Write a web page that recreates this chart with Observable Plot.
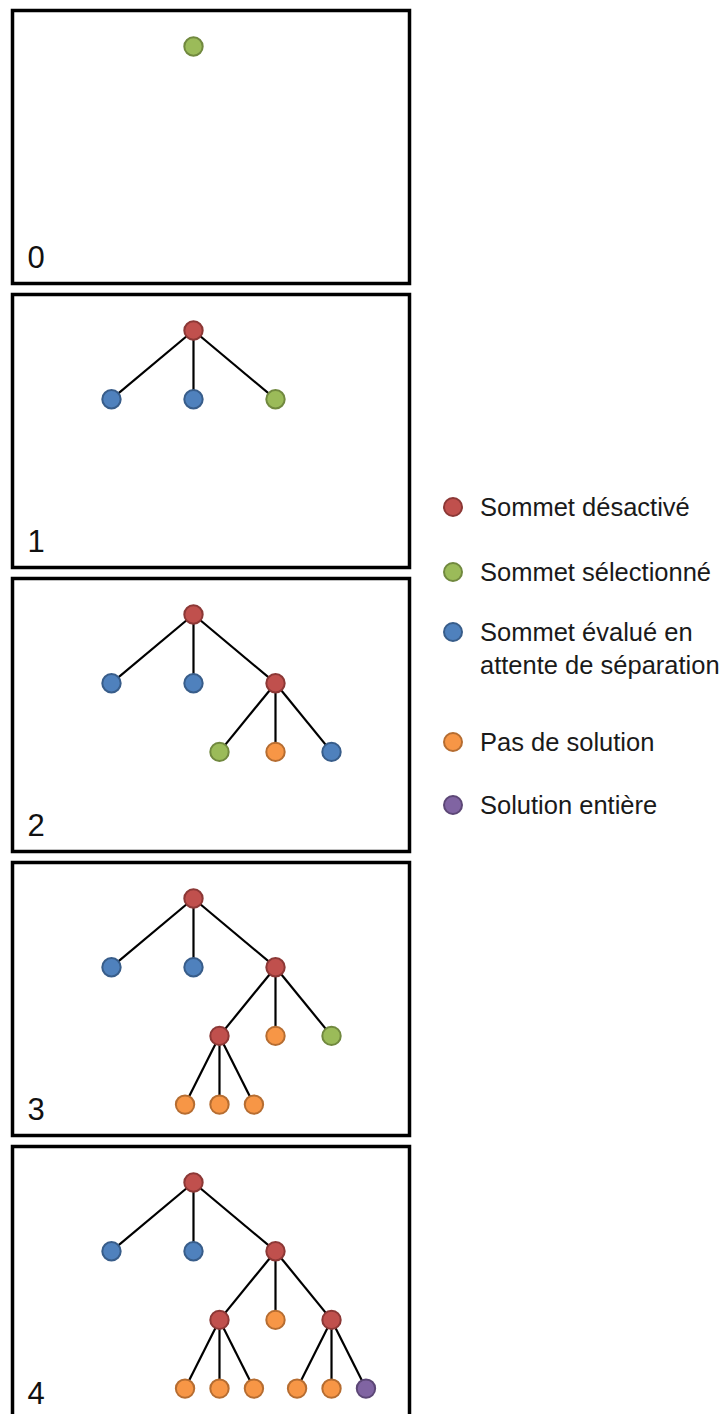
<!DOCTYPE html>
<html>
<head>
<meta charset="utf-8">
<script src="https://cdn.jsdelivr.net/npm/d3@7"></script>
<script src="https://cdn.jsdelivr.net/npm/@observablehq/plot@0.6"></script>
<style>
  html, body { margin: 0; padding: 0; background: #fff; overflow: hidden; }
  #wrap { position: relative; width: 726px; height: 1414px; }
  #chart svg { display: block; }
  .legend-item { position: absolute; left: 443px; font-family: "Liberation Sans", Arial, sans-serif;
    font-size: 25.5px; line-height: 33px; color: #1a1a1a; white-space: nowrap; }
  .legend-item .sw { position: absolute; left: 0; top: 6.5px; width: 16px; height: 16px; border-radius: 50%;
    border: 2px solid; box-sizing: content-box; }
  .legend-item .lb { position: absolute; left: 37px; top: 0; }
</style>
</head>
<body>
<div id="wrap">
  <div id="chart"></div>
  <div id="legend"></div>
</div>
<script>
// ---- Data ----
const steps = [0, 1, 2, 3, 4];
// tree structure: node ids, parent ids and sibling order (-1 left, 0 middle, 1 right)
const nodeIds  = ["r", "a", "b", "c", "c1", "c2", "c3", "c1a", "c1b", "c1c", "c3a", "c3b", "c3c"];
const parents  = [null, "r", "r", "r", "c", "c", "c", "c1", "c1", "c1", "c3", "c3", "c3"];
const siblings = [0, -1, 0, 1, -1, 0, 1, -1, 0, 1, -1, 0, 1];
// node status per step: D = désactivé, S = sélectionné, A = en attente, P = pas de solution, E = solution entière, null = absent
const status0 = ["S", null, null, null, null, null, null, null, null, null, null, null, null];
const status1 = ["D", "A", "A", "S", null, null, null, null, null, null, null, null, null];
const status2 = ["D", "A", "A", "D", "S", "P", "A", null, null, null, null, null, null];
const status3 = ["D", "A", "A", "D", "D", "P", "S", "P", "P", "P", null, null, null];
const status4 = ["D", "A", "A", "D", "D", "P", "D", "P", "P", "P", "P", "P", "E"];
const statusByStep = [status0, status1, status2, status3, status4];

const categories = ["D", "S", "A", "P", "E"];
const legendLabels = [["Sommet désactivé"], ["Sommet sélectionné"], ["Sommet évalué en", "attente de séparation"], ["Pas de solution"], ["Solution entière"]];
const fillColors   = ["#C0504D", "#9BBB59", "#4F81BD", "#F79646", "#8064A2"];
const strokeColors = ["#8C3836", "#71893F", "#385D8A", "#B66D31", "#5C4776"];

// ---- Layout (tree drawing rule): sibling spread per depth ----
const spread = [0, 1, 0.683, 0.42];
const pos = new Map();
nodeIds.forEach((id, i) => {
  const p = parents[i];
  if (p === null) pos.set(id, {x: 0, depth: 0});
  else {
    const pp = pos.get(p);
    const depth = pp.depth + 1;
    pos.set(id, {x: pp.x + siblings[i] * spread[depth], depth});
  }
});

const rows = [];
steps.forEach(s => {
  statusByStep[s].forEach((st, i) => {
    if (st === null) return;
    const id = nodeIds[i];
    const p = parents[i];
    const me = pos.get(id);
    const pp = p ? pos.get(p) : null;
    rows.push({step: s, id, status: st, x: me.x, y: me.depth,
      px: pp ? pp.x : null, py: pp ? pp.depth : null, isRoot: p === null});
  });
});

const fillScale = new Map(categories.map((c, i) => [c, fillColors[i]]));
const strokeScale = new Map(categories.map((c, i) => [c, strokeColors[i]]));

const chart = Plot.plot({
  width: 726,
  height: 1424,
  marginTop: 10,
  marginBottom: 5,
  marginLeft: 12,
  marginRight: 317,
  facet: {data: rows, y: "step"},
  fy: {axis: null, domain: steps, paddingInner: 0.039, paddingOuter: 0},
  x: {axis: null, domain: [-2.207, 2.634]},
  y: {axis: null, domain: [-0.524, 3.45], reverse: true},
  marks: [
    Plot.link(rows, {filter: d => !d.isRoot, x1: "px", y1: "py", x2: "x", y2: "y", stroke: "black", strokeWidth: 2.2}),
    Plot.dot(rows, {x: "x", y: "y", r: 9.2, fill: d => fillScale.get(d.status), stroke: d => strokeScale.get(d.status), strokeWidth: 2}),
    Plot.text(rows, {filter: d => d.isRoot, text: d => String(d.step), frameAnchor: "bottom-left", textAnchor: "start",
      dx: 15, dy: -16, fontSize: 31, fill: "#111", fontFamily: "Liberation Sans, Arial, sans-serif"}),
    Plot.frame({stroke: "black", strokeWidth: 3.5})
  ]
});
document.getElementById("chart").appendChild(chart);

// ---- Legend (HTML) ----
const legendTops = [490.5, 555.5, 615.5, 725.5, 788.5];
const legend = document.getElementById("legend");
categories.forEach((c, i) => {
  const div = document.createElement("div");
  div.className = "legend-item";
  div.style.top = legendTops[i] + "px";
  const sw = document.createElement("span");
  sw.className = "sw";
  sw.style.background = fillColors[i];
  sw.style.borderColor = strokeColors[i];
  div.appendChild(sw);
  const lb = document.createElement("span");
  lb.className = "lb";
  lb.innerHTML = legendLabels[i].join("<br>");
  div.appendChild(lb);
  legend.appendChild(div);
});
</script>
</body>
</html>
